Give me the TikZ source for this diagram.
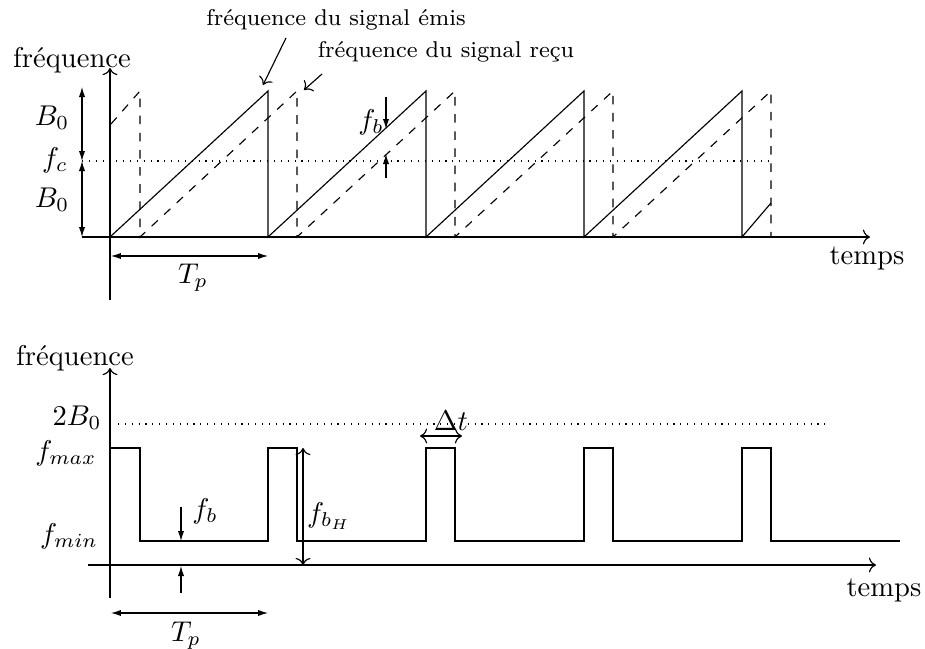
\documentclass[tikz,border=0pt]{standalone}
\usepackage{amsmath}
\usepackage{tikz}
\usetikzlibrary{arrows.meta}
\tikzset{cote/.style={{Latex[length=3.5pt,width=2.2pt]}-{Latex[length=3.5pt,width=2.2pt]}},
  fleche/.style={-{Latex[length=3.5pt,width=2.2pt]}},
  annot/.style={font=\footnotesize}}

\begin{document}
\begin{tikzpicture}[x=0.35pt,y=-0.35pt,>=To,line join=miter]
\useasboundingbox (0,0) rectangle (925,648);
% --- haut : rampes emises et recues
\draw[->] (82,237) -- (870,237); \draw[->] (110,300) -- (110,68);
\node (freqA) at (72,60) {fréquence}; \node (tempsA) at (867,258) {temps};
\draw[dotted] (82,161) -- (771,161);
\draw (110,237) -- (268,91) -- (268,237) -- (426,91) -- (426,237) -- (584,91) -- (584,237) -- (742,91) -- (742,237) -- (771,203);
\draw[dashed] (111,124) -- (140,91) -- (140,237) -- (297,91) -- (297,237) -- (455,91) -- (455,237) -- (613,91) -- (613,237) -- (771,91) -- (771,237);
\draw[cote] (82,87) -- (82,161); \draw[cote] (82,161) -- (82,237);
\node (B0h) at (52,118) {$B_0$}; \node (fc) at (55,160) {$f_c$}; \node (B0b) at (52,200) {$B_0$};
\draw[cote] (111,256) -- (268,256); \node (TpA) at (193,278) {$T_p$};
\draw[fleche] (386,97) -- (386,129); \draw[fleche] (386,178) -- (386,154);
\node (fbA) at (371,122) {$f_b$};
\node[annot] (emis) at (336,20) {fréquence du signal émis};
\coordinate (emisA) at (286,38); \coordinate (emisB) at (263,85);
\draw[->] (emisA) -- (emisB);
\node[annot] (recu) at (446,52) {fréquence du signal reçu};
\coordinate (recuA) at (322,74); \coordinate (recuB) at (304,90);
\draw[->] (recuA) -- (recuB);
% --- bas : frequence de battement
\draw[->] (88,565) -- (876,565); \draw[->] (110,598) -- (110,368);
\node (freqB) at (75,358) {fréquence}; \node (tempsB) at (884,590) {temps};
\draw[dotted] (118,424) -- (829,424);
\node (deuxB0) at (77,418) {$2B_0$}; \node (fmax) at (66,453) {$f_{max}$}; \node (fmin) at (69,536) {$f_{min}$};
\draw (110,448) -- (140,448) -- (140,541) -- (268,541) -- (268,448) -- (297,448) -- (297,541) -- (426,541) -- (426,448) -- (455,448) -- (455,541) -- (584,541) -- (584,448) -- (613,448) -- (613,541) -- (742,541) -- (742,448) -- (771,448) -- (771,541) -- (900,541);
\draw[fleche] (181,507) -- (181,541); \draw[fleche] (181,593) -- (181,566);
\node (fbB) at (205,511) {$f_b$};
\draw[<->] (303,448) -- (303,565); \node (fbH) at (329,516) {$f_{b_H}$};
\draw[<->] (420,436) -- (462,436); \node (dt) at (451,421) {$\Delta t$};
\draw[cote] (111,613) -- (268,613); \node (TpB) at (186,636) {$T_p$};
\end{tikzpicture}
\end{document}
